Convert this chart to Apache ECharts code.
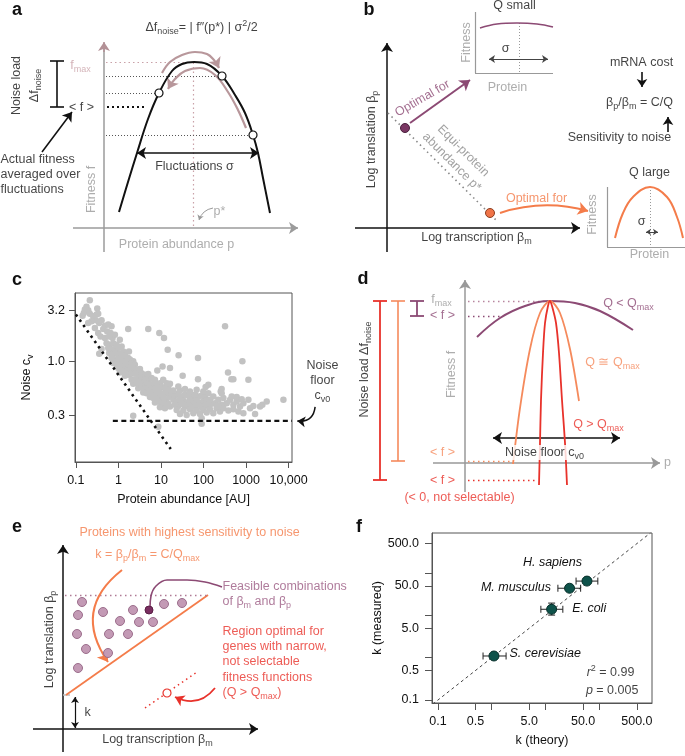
<!DOCTYPE html>
<html><head><meta charset="utf-8">
<script src="https://cdn.jsdelivr.net/npm/echarts@6/dist/echarts.min.js"></script>
<style>html,body{margin:0;padding:0;background:#fff}#c{width:685px;height:756px}</style>
</head><body><div id="c"></div>
<script>
const FONT = "'Liberation Sans', Arial, Helvetica, sans-serif";
const FS = 12.5;
const LOG = Math.log10;

// ---------------- Panel c: protein abundance vs noise (cv) ----------------
const proteinCells = [
[0.213,3.99],[0.178,3.44],[0.144,2.82],[0.318,3.31],[0.335,2.95],[0.354,1.20],[0.402,1.33],
[0.163,3.24],[0.195,3.19],[0.154,3.00],[0.213,2.95],[0.256,2.78],[0.296,2.54],[0.402,2.54],[0.354,2.39],[0.481,2.25],[0.577,2.31],[0.69,2.22],[0.44,2.09],[0.546,1.98],[0.654,1.91],[0.306,2.89],[0.234,2.49],[0.195,2.39],[0.28,2.14],[0.335,1.91],[0.38,1.77],[0.481,1.71],[0.608,1.77],[0.729,1.71],[0.828,1.84],
[0.527,1.52],[0.631,1.47],[0.756,1.52],[0.906,1.47],[1.08,1.64],[0.577,1.36],[0.69,1.31],[0.828,1.33],[0.99,1.36],[1.19,1.41],[0.608,1.22],[0.729,1.17],[0.873,1.22],[1.05,1.20],[1.30,1.26],[0.69,1.09],[0.828,1.05],[0.99,1.09],[1.19,1.13],[1.42,1.15],[1.70,1.09],[0.756,0.97],[0.906,0.935],[1.08,0.985],[1.30,1.01],[1.56,1.03],[1.87,1.05],[2.23,1.01],[0.99,0.867],[1.19,0.90],[1.42,0.914],[1.70,0.935],[2.04,0.956],[2.44,0.935],[1.08,0.786],[1.30,0.804],[1.56,0.822],[1.87,0.848],[2.23,0.861],[2.68,0.835],[3.21,0.848],[1.42,0.73],[1.70,0.746],[2.04,0.763],[2.44,0.774],[2.93,0.763],[3.51,0.774],[4.20,0.746],
[2.04,0.666],[2.44,0.676],[2.93,0.692],[3.51,0.692],[4.20,0.676],[5.03,0.666],[6.03,0.692],[7.22,0.666],[2.23,0.609],[2.68,0.618],[3.21,0.627],[3.84,0.609],[4.60,0.618],[5.51,0.595],[6.60,0.609],[7.91,0.595],[9.47,0.618],[2.93,0.552],[3.51,0.565],[4.20,0.552],[5.03,0.540],[6.03,0.552],[7.22,0.540],[8.65,0.552],[10.4,0.565],[12.4,0.552],[14.9,0.573],[3.84,0.500],[4.60,0.493],[5.51,0.500],[6.60,0.486],[7.91,0.493],[9.47,0.500],[11.3,0.486],[13.6,0.493],[16.3,0.512],[5.51,0.451],[6.60,0.441],[7.91,0.457],[9.47,0.441],[11.3,0.451],[13.6,0.431],[16.3,0.457],[7.22,0.399],[8.65,0.409],[10.4,0.393],[12.4,0.399],[14.9,0.388],[9.47,0.360],[12.4,0.352],[16.3,0.365],
[17.8,0.475],[21.4,0.464],[25.6,0.486],[30.6,0.457],[36.7,0.475],[44.0,0.464],[52.7,0.451],[63.1,0.475],[75.6,0.457],[90.5,0.464],[108,0.451],[19.5,0.424],[23.4,0.409],[28.0,0.431],[33.5,0.418],[40.2,0.399],[48.1,0.424],[57.7,0.409],[69.1,0.418],[82.7,0.399],[99,0.409],[119,0.418],[142,0.424],[21.4,0.379],[25.6,0.370],[30.6,0.388],[36.7,0.365],[44.0,0.379],[52.7,0.360],[63.1,0.370],[75.6,0.379],[90.5,0.360],[108,0.370],[130,0.379],[156,0.388],[187,0.393],[23.4,0.338],[33.5,0.333],[48.1,0.344],[69.1,0.333],[99,0.338],[142,0.344],[204,0.352],[28.0,0.309],[40.2,0.302],[57.7,0.314],[82.7,0.309],[119,0.319],[170,0.314],[90.5,0.281],[244,0.326],[267,0.379],[223,0.424],[170,0.457],[130,0.493],[99,0.512],[69.1,0.532],[48.1,0.512],[28.0,0.524],[19.5,0.524],[13.6,0.618],[11.3,0.666],[16.3,0.609],[25.6,0.573],
[293,0.441],[351,0.393],[421,0.424],[503,0.379],[603,0.409],[722,0.365],[865,0.393],[1135,0.424],[293,0.352],[384,0.333],[503,0.344],[660,0.326],[865,0.314],[1242,0.352],[267,0.493],[460,0.457],[603,0.451],[790,0.431],[223,0.370],
[1.70,2.09],[5.03,2.09],[9.14,1.91],[11.8,1.71],[14.4,1.31],[26.0,1.16],[74.3,1.09],[321,2.22],[1.77,1.26],[10.9,0.90],[16.3,0.867],[8.20,0.822],[32.4,0.73],[74.3,0.676],[377,0.786],[452,0.676],[503,0.676],[820,1.01],[1135,0.666],[130,0.595],[112,0.565],[267,0.540],[254,0.512],[5.03,0.757],[2.23,0.296],[8.65,0.232],[90.5,0.247],[1488,0.370],[2135,0.365],[2420,0.379],[3060,0.409],[7550,0.424],[1630,0.309],[36.7,0.540]
];
const cXTicks = [0.1, 1, 10, 100, 1000, 10000];
const cXTickLabels = ['0.1', '1', '10', '100', '1000', '10,000'];
const cYTicks = [3.2, 1.0, 0.3];
const cYTickLabels = ['3.2', '1.0', '0.3'];
const cXRange = [0.0955, 12020];
const cYRange = [0.1047, 4.70];
const poissonLimit = [[0.1, 2.9], [17, 0.14]];
const noiseFloor = [[0.74, 0.264], [12020, 0.264]];

// ---------------- Panel f: k theory vs k measured ----------------
const species = ['S. cerevisiae', 'E. coli', 'M. musculus', 'H. sapiens'];
const kTheory = [1.1, 13, 28, 59];
const kMeasured = [1.1, 14, 44, 65];
const kTheoryLow = [0.69, 8.2, 17, 37];
const kTheoryHigh = [1.85, 21, 45, 94];
const kMeasuredLow = [1.1, 10.2, 44, 65];
const kMeasuredHigh = [1.1, 19.6, 44, 65];
const fTicks = [0.1, 0.5, 1, 5, 10, 50, 100, 500];
const fLabelValues = [0.1, 0.5, 5, 50, 500];
const fLabelTexts = ['0.1', '0.5', '5.0', '50.0', '500.0'];
const fXRange = [0.0776, 955];
const fYRange = [0.0851, 891];
const identityLine = [[0.08, 0.08], [900, 900]];

// ---------------- Schematic panels (arbitrary schematic units) ----------------
// a: fitness landscape f(p)
const aFitnessCurve = [[15,16],[24,46],[33,75],[44,109],[55,135],[68,157],[78,164],[90,166],[103,164],[118,152],[131,133],[141,115],[149,93],[154,75],[159,50],[166,15]];
const aSamples = [[55,135],[118,152],[149,93]];
const aArcDown = [[58,155],[66,166],[78,173],[91,176],[103,174],[110,168],[113,163]];
const aArcUp = [[142,100],[134,118],[124,136],[111,153],[96,160],[81,157],[71,149],[66,142]];
// b: insets
const bSmallQ = [[93,200],[110,204],[130,205],[150,204],[166,201]];
const bLargeQ = [[228,-10],[236,15],[246,31],[263,41],[280,31],[290,11],[296,-10]];
const bGenes = [[18,100],[103,15]];
// d: three fitness functions
const dWideCurve = [[12,126],[35,145],[60,157],[85,162],[110,160],[135,152],[168,133]];
const dMediumCurve = [[48,-1],[55,55],[65,114],[75,150],[85,162],[95,150],[105,114],[114,62]];
const dNarrowCurve = [[74,-22],[75,20],[76,63],[78,110],[80,140],[83,157],[85,162],[87,157],[91,140],[94,110],[97,63],[100,20],[102,-22]];
// e: feasible (beta_m, beta_p) combinations
const eFeasible = [[19,127],[15,114],[14,95],[23,80],[15,61],[40,117],[46,95],[45,76],[57,108],[65,95],[70,119],[76,107],[90,107],[101,125],[119,126]];
const eHighlighted = [[86,119]];
const eConnector = [[87,121],[88,133],[93,143],[104,149],[124,149],[142,147],[159,142]];

const RICH = {
  sub: {fontSize: 9, lineHeight: 9, padding: [8, 0, 0, 0]},
  sup: {fontSize: 9, lineHeight: 9, padding: [0, 0, 8, 0]},
  i: {fontStyle: 'italic'}
};
const hid = (gi, min, max) => ({gridIndex: gi, type: 'value', min, max, show: false});
const ARROW = ['none', 'arrow'];
const BOTH = ['arrow', 'arrow'];
function segs(gi, list, color, width, o = {}) {
  return {type: 'lines', coordinateSystem: 'cartesian2d', xAxisIndex: gi, yAxisIndex: gi, silent: true, clip: false,
    z: o.z || 3, symbol: o.symbol || 'none', symbolSize: o.size || 8,
    lineStyle: {color, width, opacity: 1, type: o.type || 'solid', curveness: o.curve || 0},
    data: list.map(c => ({coords: c}))};
}
function curve(gi, pts, color, width, o = {}) {
  return {type: 'line', xAxisIndex: gi, yAxisIndex: gi, silent: true, clip: false, z: o.z || 3,
    showSymbol: false, symbol: 'none', smooth: o.smooth == null ? 0.4 : o.smooth,
    lineStyle: {color, width, type: o.type || 'solid'}, data: pts};
}
function dots(gi, pts, size, fill, border, bw, z) {
  return {type: 'scatter', xAxisIndex: gi, yAxisIndex: gi, silent: true, clip: false, z: z || 6,
    symbolSize: size, itemStyle: {color: fill, borderColor: border, borderWidth: bw || 0, opacity: 1}, data: pts};
}
function texts(gi, items) {
  return {type: 'scatter', xAxisIndex: gi, yAxisIndex: gi, silent: true, clip: false, z: 10, symbolSize: 1,
    itemStyle: {color: 'rgba(0,0,0,0)'},
    data: items.map(([x, y, t, o = {}]) => ({value: [x, y], label: {show: true, position: [0, 0], formatter: t,
      color: o.c || '#111', fontSize: o.s || FS, fontWeight: o.w || 'normal', fontStyle: o.i ? 'italic' : 'normal',
      fontFamily: FONT, align: o.a || 'center', verticalAlign: 'middle', rotate: o.r || 0, lineHeight: o.lh || 15,
      backgroundColor: o.bg || 'transparent', padding: o.pad || 0, offset: o.off || [0, 0], rich: RICH}}))};
}
const labelOf = (ticks, labels) => v => { const i = ticks.findIndex(t => Math.abs(LOG(t) - v) < 1e-6); return i >= 0 ? labels[i] : ''; };

const PURPLE = '#8c4a74', ORANGE = '#f47c4a', RED = '#e8322b', GRAY = '#999', PINK = '#b8979b';

const series = [
  // ===== Panel a =====
  segs(0, [[[0,-24],[0,180]]], '#9b9b9b', 1.5),
  segs(0, [[[0,176],[0,186]]], '#b39196', 1.5, {symbol: ARROW, size: 9}),
  segs(0, [[[-31,0],[194,0]]], '#9b9b9b', 1.5, {symbol: ARROW, size: 9}),
  segs(0, [[[2,166],[89,166]], [[89,2],[89,166]]], '#c9a1a8', 1.2, {type: [1.5, 3]}),
  segs(0, [[[2,152],[118,152]], [[2,135],[55,135]], [[2,93],[149,93]]], '#555', 1, {type: [1, 2]}),
  segs(0, [[[3,121],[43,121]]], '#111', 1.8, {type: [2, 3]}),
  curve(0, aFitnessCurve, '#111', 2),
  dots(0, aSamples, 8, '#fff', '#111', 1.2),
  segs(0, [[[33,75],[155,75]]], '#111', 1.6, {symbol: BOTH, size: 9}),
  curve(0, aArcDown, PINK, 2.2),
  segs(0, [[[112,166],[115,160]]], PINK, 2.2, {symbol: ARROW, size: 10}),
  curve(0, aArcUp, PINK, 2.2),
  segs(0, [[[68,146],[64,139]]], PINK, 2.2, {symbol: ARROW, size: 10}),
  segs(0, [[[109,20],[95,8]]], '#999', 1, {symbol: ARROW, size: 5, curve: -0.3}),
  segs(0, [[[-47,121],[-47,167]], [[-54,167],[-40,167]], [[-54,121],[-40,121]]], '#111', 1.6),
  segs(0, [[[-62,76],[-32,116]]], '#111', 1.6, {symbol: ARROW, size: 9}),
  texts(0, [
    [98, 200, 'Δf{sub|noise}= | f″(p*) | σ{sup|2}/2'],
    [91, 61, 'Fluctuations σ'],
    [-12, 38, 'Fitness f', {c: GRAY, r: 90}],
    [73, -17, 'Protein abundance p', {c: GRAY}],
    [116, 16, 'p*', {c: GRAY}],
    [-23, 162, 'f{sub|max}', {c: '#c9a1a8'}],
    [-22, 120, '< f >'],
    [-87, 142, 'Noise load', {r: 90}],
    [-69, 142, 'Δf{sub|noise}', {r: 90}],
    [-103, 53, 'Actual fitness\naveraged over\nfluctuations', {a: 'left', lh: 15}]
  ]),

  // ===== Panel b =====
  segs(1, [[[0,-24],[0,185]], [[-32,0],[193,0]]], '#111', 1.5, {symbol: ARROW, size: 9}),
  segs(1, [[[1,115],[111,6]]], '#888', 1.6, {type: [1.5, 3.5]}),
  dots(1, [bGenes[0]], 9, '#7a3763', '#4a1f3c', 1),
  dots(1, [bGenes[1]], 9, '#f07448', '#8a3d20', 1),
  segs(1, [[[23,105],[83,148]]], PURPLE, 2, {symbol: ARROW, size: 10}),
  segs(1, [[[113,15],[201,17]]], ORANGE, 2, {symbol: ARROW, size: 10, curve: 0.15}),
  segs(1, [[[88,216],[88,155]], [[88,155],[166,155]], [[220,41],[220,-19]], [[220,-19],[298,-19]]], '#999', 1.2),
  curve(1, bSmallQ, PURPLE, 1.6),
  curve(1, bLargeQ, ORANGE, 2),
  segs(1, [[[132,205],[132,155]], [[263,41],[263,-19]]], '#999', 1, {type: [1, 2]}),
  segs(1, [[[102,169],[161,169]]], '#444', 1, {symbol: BOTH, size: 6}),
  segs(1, [[[259,-4],[271,-4]]], '#444', 1, {symbol: BOTH, size: 5}),
  segs(1, [[[255,156],[255,141]], [[281,96],[281,111]]], '#111', 1.6, {symbol: ARROW, size: 8}),
  texts(1, [
    [-15, 88, 'Log translation β{sub|p}', {r: 90}],
    [90, -10, 'Log transcription β{sub|m}'],
    [36, 129, 'Optimal for', {c: PURPLE, r: 30}],
    [71, 71, 'Equi-protein\nabundance p*', {c: '#8a8a8a', r: -45, lh: 16}],
    [150, 29, 'Optimal for', {c: ORANGE}],
    [128, 222, 'Q small'],
    [119, 179, 'σ'],
    [80, 185, 'Fitness', {c: GRAY, r: 90}],
    [121, 140, 'Protein', {c: GRAY}],
    [255, 165, 'mRNA cost'],
    [253, 125, 'β{sub|p}/β{sub|m} = C/Q'],
    [233, 90, 'Sensitivity to noise'],
    [263, 55, 'Q large'],
    [255, 6, 'σ'],
    [206, 13, 'Fitness', {c: GRAY, r: 90}],
    [263, -27, 'Protein', {c: GRAY}]
  ]),

  // ===== Panel c =====
  {type: 'scatter', xAxisIndex: 2, yAxisIndex: 2, silent: true, z: 2, symbolSize: 6.5,
    itemStyle: {color: '#c2c2c2', opacity: 1}, data: proteinCells.map(([a, c]) => [LOG(a), LOG(c)])},
  {type: 'line', xAxisIndex: 2, yAxisIndex: 2, silent: true, z: 4, showSymbol: false, symbol: 'none',
    lineStyle: {color: '#111', width: 2.6, type: [2.5, 4]}, data: poissonLimit.map(([a, c]) => [LOG(a), LOG(c)])},
  {type: 'line', xAxisIndex: 2, yAxisIndex: 2, silent: true, z: 4, showSymbol: false, symbol: 'none',
    lineStyle: {color: '#111', width: 2.2, type: [5, 3.5]}, data: noiseFloor.map(([a, c]) => [LOG(a), LOG(c)])},
  segs(2, [[[LOG(42000), LOG(0.362)], [LOG(16000), LOG(0.264)]]], '#111', 1.5, {symbol: ARROW, size: 8, curve: 0.5}),
  texts(2, [
    [LOG(noiseFloor[1][0]), LOG(noiseFloor[1][1]), 'Noise\nfloor\nc{sub|v0}', {off: [31, -40], lh: 15}]
  ]),

  // ===== Panel d =====
  segs(3, [[[0,-29],[0,183]], [[-32,0],[195,0]]], '#999', 1.5, {symbol: ARROW, size: 9}),
  segs(3, [[[3,162],[85,162]]], '#b8869f', 1.3, {type: [1.5, 3.5]}),
  segs(3, [[[3,147],[35,147]]], PURPLE, 1.3, {type: [1.5, 3.5]}),
  segs(3, [[[3,2],[48,2]]], '#f58a5c', 1.3, {type: [1.5, 3.5]}),
  segs(3, [[[3,-17],[70,-17]]], RED, 1.3, {type: [1.5, 3.5]}),
  segs(3, [[[-48,147],[-48,162]], [[-55,162],[-41,162]], [[-55,147],[-41,147]]], PURPLE, 1.8),
  segs(3, [[[-67,2],[-67,162]], [[-74,162],[-60,162]], [[-74,2],[-60,2]]], '#f58a5c', 1.6),
  segs(3, [[[-85,-17],[-85,162]], [[-92,162],[-78,162]], [[-92,-17],[-78,-17]]], RED, 1.8),
  curve(3, dWideCurve, PURPLE, 2),
  curve(3, dMediumCurve, '#f58a5c', 1.8, {smooth: 0.3}),
  curve(3, dNarrowCurve, RED, 1.8, {smooth: 0.3}),
  segs(3, [[[28,25],[155,25]]], '#111', 1.6, {symbol: BOTH, size: 9}),
  texts(3, [
    [-13, 88, 'Fitness f', {c: GRAY, r: 90}],
    [203, 0, 'p', {c: GRAY}],
    [-23, 163, 'f{sub|max}', {c: GRAY}],
    [-22, 147, '< f >', {c: PURPLE}],
    [-22, 10, '< f >', {c: '#f58a5c'}],
    [-22, -18, '< f >', {c: RED}],
    [-5, -35, '(< 0, not selectable)', {c: RED}],
    [-100, 93, 'Noise load Δf{sub|noise}', {r: 90}],
    [164, 159, 'Q < Q{sub|max}', {c: PURPLE}],
    [148, 100, 'Q ≅ Q{sub|max}', {c: '#f58a5c'}],
    [134, 38, 'Q > Q{sub|max}', {c: RED}],
    [80, 10, 'Noise floor c{sub|v0}', {bg: '#fff', pad: [0, 1, 0, 1]}]
  ]),

  // ===== Panel e =====
  segs(4, [[[0,-23],[0,184]], [[-30,0],[195,0]]], '#111', 1.5, {symbol: ARROW, size: 9}),
  segs(4, [[[0,34],[7,34]]], '#bbb', 1.5),
  segs(4, [[[3,34],[145,134]]], ORANGE, 1.8),
  segs(4, [[[2,134],[145,134]]], '#b07a95', 1.4, {type: [1.5, 3.5]}),
  segs(4, [[[12,32],[12,1]]], '#111', 1.2, {symbol: BOTH, size: 6}),
  dots(4, eFeasible, 9, '#c39ab5', '#9b6d8b', 1),
  dots(4, eHighlighted, 8, '#7a2e60', '#5a1f46', 1, 7),
  curve(4, eConnector, PURPLE, 1.6),
  segs(4, [[[59,159],[45,67]]], ORANGE, 2, {symbol: ARROW, size: 10, curve: -0.47}),
  segs(4, [[[82,21],[134,57]]], RED, 1.5, {type: [1.5, 3.5]}),
  dots(4, [[104,36]], 8, '#fff', RED, 1.2, 7),
  segs(4, [[[152,41],[112,32]]], RED, 1.8, {symbol: ARROW, size: 9, curve: 0.4}),
  texts(4, [
    [-13, 89, 'Log translation β{sub|p}', {r: 90}],
    [95, -11, 'Log transcription β{sub|m}'],
    [127, 196, 'Proteins with highest sensitivity to noise', {c: ORANGE}],
    [85, 174, 'k = β{sub|p}/β{sub|m} = C/Q{sub|max}', {c: ORANGE}],
    [25, 16, 'k'],
    [160, 134.5, 'Feasible combinations\nof β{sub|m} and β{sub|p}', {c: '#9b5a82', a: 'left', lh: 15}],
    [160, 66.5, 'Region optimal for\ngenes with narrow,\nnot selectable\nfitness functions\n(Q > Q{sub|max})', {c: RED, a: 'left', lh: 15.3}]
  ]),

  // ===== Panel f =====
  {type: 'line', xAxisIndex: 5, yAxisIndex: 5, silent: true, z: 2, showSymbol: false, symbol: 'none',
    lineStyle: {color: '#444', width: 1, type: [3, 3]}, data: identityLine.map(([a, b]) => [LOG(a), LOG(b)])},
  {type: 'custom', xAxisIndex: 5, yAxisIndex: 5, silent: true, z: 4,
    data: species.map((s, i) => [LOG(kTheory[i]), LOG(kMeasured[i]), LOG(kTheoryLow[i]), LOG(kTheoryHigh[i]), LOG(kMeasuredLow[i]), LOG(kMeasuredHigh[i])]),
    renderItem: (params, api) => {
      const x = api.value(0), y = api.value(1);
      const a = api.coord([api.value(2), y]), b = api.coord([api.value(3), y]);
      const st = {stroke: '#222', lineWidth: 1};
      const ch = [
        {type: 'line', shape: {x1: a[0], y1: a[1], x2: b[0], y2: b[1]}, style: st},
        {type: 'line', shape: {x1: a[0], y1: a[1] - 3.5, x2: a[0], y2: a[1] + 3.5}, style: st},
        {type: 'line', shape: {x1: b[0], y1: b[1] - 3.5, x2: b[0], y2: b[1] + 3.5}, style: st}
      ];
      if (api.value(5) > api.value(4)) {
        const c = api.coord([x, api.value(4)]), d = api.coord([x, api.value(5)]);
        ch.push({type: 'line', shape: {x1: c[0], y1: c[1], x2: d[0], y2: d[1]}, style: st});
        ch.push({type: 'line', shape: {x1: c[0] - 3.5, y1: c[1], x2: c[0] + 3.5, y2: c[1]}, style: st});
        ch.push({type: 'line', shape: {x1: d[0] - 3.5, y1: d[1], x2: d[0] + 3.5, y2: d[1]}, style: st});
      }
      return {type: 'group', children: ch};
    }},
  {type: 'scatter', xAxisIndex: 5, yAxisIndex: 5, silent: true, z: 6, symbolSize: 10,
    itemStyle: {color: '#0e524a', borderColor: '#062e29', borderWidth: 1, opacity: 1},
    data: species.map((s, i) => {
      const lab = [
        {off: [16, -2], a: 'left'}, {off: [21, 0], a: 'left'}, {off: [-18, 0], a: 'right'}, {off: [-34, -18], a: 'center'}
      ][i];
      return {value: [LOG(kTheory[i]), LOG(kMeasured[i])], name: s,
        label: {show: true, position: [5, 5], formatter: s, fontStyle: 'italic', color: '#111', fontSize: FS,
          fontFamily: FONT, align: lab.a, verticalAlign: 'middle', offset: lab.off}};
    })},
  texts(5, [
    [LOG(459), LOG(0.435), '{i|r}{sup|2} = 0.99', {a: 'right'}],
    [LOG(545), LOG(0.163), '{i|p} = 0.005', {a: 'right'}]
  ])
];

const axisText = {color: '#111', fontSize: FS, fontFamily: FONT};
const option = {
  animation: false,
  textStyle: {fontFamily: FONT, fontSize: FS},
  grid: [
    {left: 0, top: 0, width: 342, height: 260},
    {left: 342, top: 0, width: 343, height: 260},
    {left: 75, top: 293, width: 217, height: 169, show: true, borderColor: '#555', borderWidth: 1},
    {left: 342, top: 260, width: 343, height: 250},
    {left: 0, top: 500, width: 342, height: 256},
    {left: 432, top: 533, width: 220, height: 170, show: true, borderColor: '#555', borderWidth: 1}
  ],
  xAxis: [
    hid(0, -104, 238), hid(1, -45, 298),
    {gridIndex: 2, type: 'value', min: LOG(cXRange[0]), max: LOG(cXRange[1]),
      axisLine: {show: true, onZero: false, lineStyle: {color: '#555'}},
      axisTick: {show: true, customValues: cXTicks.map(LOG), length: 6, lineStyle: {color: '#555'}},
      axisLabel: Object.assign({customValues: cXTicks.map(LOG), formatter: labelOf(cXTicks, cXTickLabels), margin: 12}, axisText),
      splitLine: {show: false},
      name: 'Protein abundance [AU]', nameLocation: 'middle', nameGap: 31, nameTextStyle: axisText},
    hid(3, -123, 220), hid(4, -63, 279),
    {gridIndex: 5, type: 'value', min: LOG(fXRange[0]), max: LOG(fXRange[1]),
      axisLine: {show: true, onZero: false, lineStyle: {color: '#555'}},
      axisTick: {show: true, customValues: fTicks.map(LOG), length: 7, lineStyle: {color: '#555'}},
      axisLabel: Object.assign({customValues: fLabelValues.map(LOG), formatter: labelOf(fLabelValues, fLabelTexts), margin: 12}, axisText),
      splitLine: {show: false},
      name: 'k (theory)', nameLocation: 'middle', nameGap: 31, nameTextStyle: axisText}
  ],
  yAxis: [
    hid(0, -32, 228), hid(1, -32, 228),
    {gridIndex: 2, type: 'value', min: LOG(cYRange[0]), max: LOG(cYRange[1]),
      axisLine: {show: true, onZero: false, lineStyle: {color: '#555'}},
      axisTick: {show: true, customValues: cYTicks.map(LOG), length: 6, lineStyle: {color: '#555'}},
      axisLabel: Object.assign({customValues: cYTicks.map(LOG), formatter: labelOf(cYTicks, cYTickLabels), margin: 10}, axisText),
      splitLine: {show: false},
      name: 'Noise c{sub|v}', nameLocation: 'middle', nameGap: 42, nameTextStyle: Object.assign({rich: RICH}, axisText)},
    hid(3, -47, 203), hid(4, -27, 229),
    {gridIndex: 5, type: 'value', min: LOG(fYRange[0]), max: LOG(fYRange[1]),
      axisLine: {show: true, onZero: false, lineStyle: {color: '#555'}},
      axisTick: {show: true, customValues: fTicks.map(LOG), length: 7, lineStyle: {color: '#555'}},
      axisLabel: Object.assign({customValues: fLabelValues.map(LOG), formatter: labelOf(fLabelValues, fLabelTexts), margin: 13}, axisText),
      splitLine: {show: false},
      name: 'k (measured)', nameLocation: 'middle', nameGap: 46, nameTextStyle: axisText}
  ],
  graphic: [['a', 17, 10], ['b', 369, 10], ['c', 17, 280], ['d', 363, 279], ['e', 17, 527], ['f', 359, 527]].map(([t, x, y]) => ({
    type: 'text', x, y, silent: true, style: {text: t, x: 0, y: 0, align: 'center', verticalAlign: 'middle', font: 'bold 18px ' + FONT, fill: '#111'}
  })),
  series
};
const chart = echarts.init(document.getElementById('c'), null, {renderer: 'canvas'});
chart.setOption(option);
</script></body></html>
